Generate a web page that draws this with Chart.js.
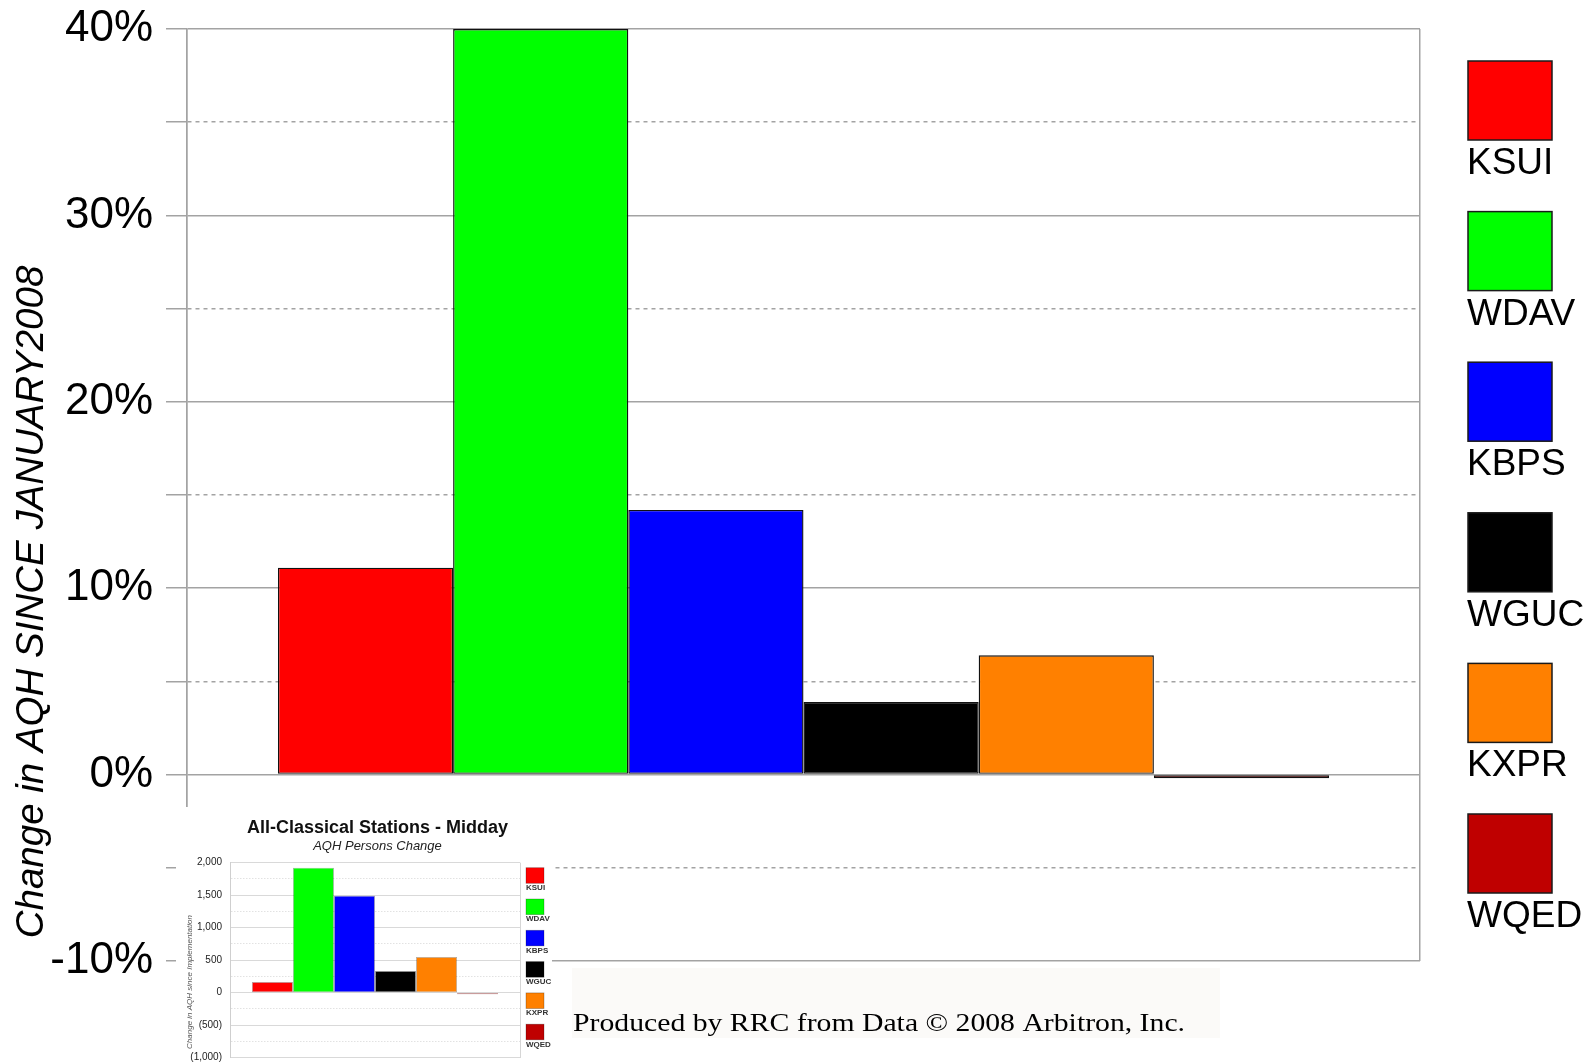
<!DOCTYPE html>
<html>
<head>
<meta charset="utf-8">
<script src="https://cdn.jsdelivr.net/npm/chart.js@4.4.0/dist/chart.umd.min.js"></script>
<style>
  body { margin: 0; background: #fff; }
  #wrap { position: relative; width: 1587px; height: 1062px; overflow: hidden; }
  #main { position: absolute; left: 0; top: 0; }
  #inset { position: absolute; left: 176px; top: 807px; background: #fff; }
</style>
</head>
<body>
<div id="wrap">
  <canvas id="main" width="1587" height="1062"></canvas>
  <canvas id="inset" width="376" height="270"></canvas>
</div>
<script>
// stations (one bar each)
const stations = ['KSUI', 'WDAV', 'KBPS', 'WGUC', 'KXPR', 'WQED'];
const colors = ['#ff0000', '#00ff00', '#0000ff', '#000000', '#ff8000', '#bf0000'];

// main chart: % change in AQH since January 2008
const pctChange = [11.1, 40, 14.2, 3.9, 6.4, -0.2];
const pctTicks = [-10, 0, 10, 20, 30, 40];

// small chart: AQH persons change
const personsChange = [164, 1923, 1491, 333, 549, -25];
const personsTicks = [-1000, -500, 0, 500, 1000, 1500, 2000];

const FONT = "'Liberation Sans', Arial, sans-serif";
const GRID = '#a3a3a3';

// ---------- main chart ----------
const mainDecor = {
    id: 'mainDecor',
    afterDraw(chart) {
        const ctx = chart.ctx;
        ctx.save();

        // y axis title (rotated)
        ctx.translate(43, 602);
        ctx.rotate(-Math.PI / 2);
        ctx.font = 'italic 38.5px ' + FONT;
        ctx.fillStyle = '#000';
        ctx.textAlign = 'center';
        ctx.textBaseline = 'alphabetic';
        ctx.fillText('Change in AQH SINCE JANUARY2008', 0, 0);
        ctx.restore();

        // legend: box with the name under it
        ctx.save();
        stations.forEach((s, i) => {
            const top = 61 + i * 150.6;
            ctx.fillStyle = colors[i];
            ctx.fillRect(1468, top, 84, 79);
            ctx.strokeStyle = '#1a1a1a';
            ctx.lineWidth = 1.5;
            ctx.strokeRect(1468, top, 84, 79);
            ctx.fillStyle = '#000';
            ctx.font = '37px ' + FONT;
            ctx.textAlign = 'left';
            ctx.textBaseline = 'alphabetic';
            ctx.fillText(s, 1467, top + 113);
        });
        ctx.restore();

        // source note
        ctx.save();
        ctx.fillStyle = '#fbfaf8';
        ctx.fillRect(572, 968, 648, 70);
        const note = 'Produced by RRC from Data \u00A9 2008 Arbitron, Inc.';
        ctx.font = "26px 'Liberation Serif', 'Times New Roman', serif";
        const sx = 612 / ctx.measureText(note).width;
        ctx.translate(573, 1031);
        ctx.scale(sx, 1);
        ctx.fillStyle = '#000';
        ctx.textBaseline = 'alphabetic';
        ctx.fillText(note, 0, 0);
        ctx.restore();
    }
};

new Chart(document.getElementById('main').getContext('2d'), {
    type: 'bar',
    data: {
        labels: [''],
        datasets: stations.map((s, i) => ({
            label: s,
            data: [pctChange[i]],
            backgroundColor: colors[i],
            borderColor: '#111',
            borderWidth: 1.4,
            borderSkipped: false,
            categoryPercentage: 0.8525,
            barPercentage: 1
        }))
    },
    options: {
        responsive: false,
        animation: false,
        layout: { padding: { left: 0, top: 29, right: 167, bottom: 101 } },
        plugins: { legend: { display: false }, tooltip: { enabled: false } },
        scales: {
            x: {
                grid: { offset: true, drawTicks: false, color: GRID, lineWidth: 1.5 },
                ticks: { display: false },
                border: { display: false },
                afterFit: s => { s.height = 0; }
            },
            y: {
                min: -10,
                max: 40,
                afterFit: s => { s.width = 187; s.paddingTop = 0; s.paddingBottom = 0; },
                ticks: {
                    stepSize: 5,
                    autoSkip: false,
                    padding: 13,
                    color: '#000',
                    font: { family: FONT, size: 44 },
                    callback: v => pctTicks.includes(v) ? v + '%' : ''
                },
                grid: { color: GRID, lineWidth: 1.5, tickLength: 21, tickColor: GRID },
                border: {
                    color: GRID,
                    width: 1.5,
                    dash: ctx => (ctx.tick && !pctTicks.includes(ctx.tick.value)) ? [4, 4] : []
                }
            }
        }
    },
    plugins: [mainDecor]
});

// ---------- small chart ----------
function fmtPersons(v) {
    const s = Math.abs(v).toLocaleString('en-US');
    return v < 0 ? '(' + s + ')' : s;
}

const insetDecor = {
    id: 'insetDecor',
    afterDraw(chart) {
        const ctx = chart.ctx;
        ctx.save();
        ctx.fillStyle = '#111';
        ctx.textAlign = 'center';
        ctx.textBaseline = 'alphabetic';
        ctx.font = 'bold 18px ' + FONT;
        ctx.fillText('All-Classical Stations - Midday', 201.5, 26);
        ctx.font = 'italic 13px ' + FONT;
        ctx.fillStyle = '#222';
        ctx.fillText('AQH Persons Change', 201.5, 43);

        // y axis title
        ctx.save();
        ctx.translate(16, 175);
        ctx.rotate(-Math.PI / 2);
        ctx.font = 'italic 8px ' + FONT;
        ctx.fillStyle = '#555';
        ctx.fillText('Change in AQH since Implementation', 0, 0);
        ctx.restore();

        // legend
        stations.forEach((s, i) => {
            const top = 60.7 + i * 31.3;
            ctx.fillStyle = colors[i];
            ctx.fillRect(350, top, 18, 15.6);
            ctx.strokeStyle = 'rgba(0,0,0,0.3)';
            ctx.lineWidth = 0.8;
            ctx.strokeRect(350, top, 18, 15.6);
            ctx.fillStyle = '#333';
            ctx.font = 'bold 8px ' + FONT;
            ctx.textAlign = 'left';
            ctx.fillText(s, 350, top + 22.3);
        });
        ctx.restore();
    }
};

new Chart(document.getElementById('inset').getContext('2d'), {
    type: 'bar',
    data: {
        labels: [''],
        datasets: stations.map((s, i) => ({
            label: s,
            data: [personsChange[i]],
            backgroundColor: colors[i],
            borderColor: i === 5 ? '#a05050' : 'rgba(0,0,0,0.35)',
            borderWidth: 0.8,
            borderSkipped: false,
            categoryPercentage: 0.849,
            barPercentage: 1
        }))
    },
    options: {
        responsive: false,
        animation: false,
        layout: { padding: { left: 0, top: 55.7, right: 32, bottom: 19.3 } },
        plugins: { legend: { display: false }, tooltip: { enabled: false } },
        scales: {
            x: {
                grid: { offset: true, drawTicks: false, color: '#d6d6d6', lineWidth: 1 },
                ticks: { display: false },
                border: { display: false },
                afterFit: s => { s.height = 0; }
            },
            y: {
                min: -1000,
                max: 2000,
                afterFit: s => { s.width = 54; },
                ticks: {
                    stepSize: 250,
                    autoSkip: false,
                    padding: 8,
                    color: '#222',
                    font: { family: FONT, size: 10 },
                    callback: v => personsTicks.includes(v) ? fmtPersons(v) : ''
                },
                grid: {
                    drawTicks: false,
                    color: ctx => (ctx.tick && personsTicks.includes(ctx.tick.value)) ? '#d9d9d9' : '#e2e2e2',
                    lineWidth: 1
                },
                border: {
                    color: '#cfcfcf',
                    width: 1,
                    dash: ctx => (ctx.tick && !personsTicks.includes(ctx.tick.value)) ? [1.5, 1.5] : []
                }
            }
        }
    },
    plugins: [insetDecor]
});
</script>
</body>
</html>
